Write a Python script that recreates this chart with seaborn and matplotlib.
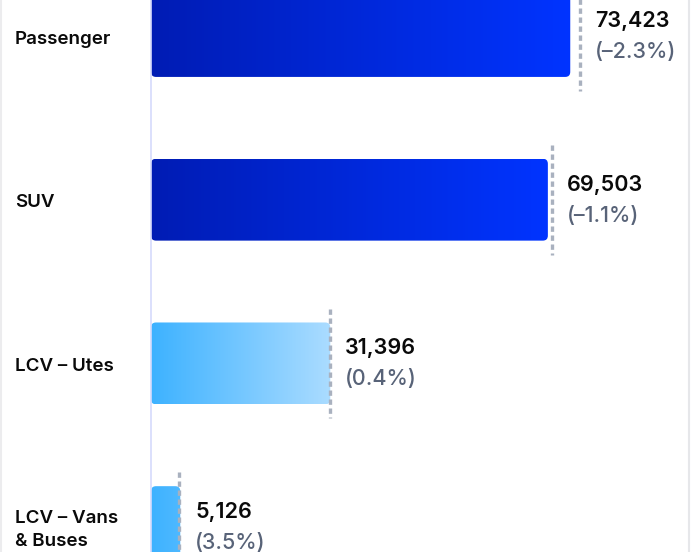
import numpy as np
import pandas as pd
import matplotlib
matplotlib.use("Agg")
import matplotlib.pyplot as plt
import seaborn as sns
from matplotlib.patches import FancyBboxPatch
from matplotlib.colors import LinearSegmentedColormap
from matplotlib.transforms import blended_transform_factory, IdentityTransform, offset_copy
from matplotlib.lines import Line2D

# ---- data ----
categories = ["Passenger", "SUV", "LCV – Utes", "LCV – Vans\n& Buses"]
values = [73423, 69503, 31396, 5126]
pct_change = [-2.3, -1.1, 0.4, 3.5]
pct_labels = ["(–2.3%)", "(–1.1%)", "(0.4%)", "(3.5%)"]
# previous-period values implied by the changes (shown as dotted markers)
prev_values = [v / (1 + p / 100) for v, p in zip(values, pct_change)]

# ---- style ----
sns.set_theme(style="white")
plt.rcParams["font.family"] = ["Inter", "DejaVu Sans"]

dark_grad = ("#001cb4", "#0034ff")
light_grad = ("#3db2ff", "#abdcff")
bar_style = {"Passenger": "dark", "SUV": "dark",
             "LCV – Utes": "light", "LCV – Vans\n& Buses": "light"}
light_span = 31396  # light gradient runs across this data range

W, H = 691, 552
fig = plt.figure(figsize=(W / 100, H / 100), dpi=100)
fig.patch.set_facecolor("white")
ax = fig.add_axes([151 / W, 0, 540 / W, 1])

df = pd.DataFrame({"category": categories, "value": values})
sns.barplot(data=df, y="category", x="value", orient="h", width=0.5,
            color="#0025e0", ax=ax)

px_per_unit = 5.71 / 1000
ax.set_xlim(0, 540 / px_per_unit)
step = 163.7
ax.set_ylim((H - 36) / step, -36 / step)

for s in ["top", "right", "bottom"]:
    ax.spines[s].set_visible(False)
ax.spines["left"].set_color("#d5dafc")
ax.spines["left"].set_linewidth(1.2)
ax.set_xticks([])
ax.set_yticks([])
ax.set_xlabel("")
ax.set_ylabel("")

fig.canvas.draw()
for patch, cat, val in zip(ax.patches, categories, values):
    x0, y0 = patch.get_x(), patch.get_y()
    w, h = patch.get_width(), patch.get_height()
    patch.set_visible(False)
    (px0, py0) = ax.transData.transform((x0, y0 + h))
    (px1, py1) = ax.transData.transform((x0 + w, y0))
    rb = FancyBboxPatch((px0, py0), px1 - px0, py1 - py0,
                        boxstyle="round,pad=0,rounding_size=5",
                        transform=IdentityTransform(), facecolor="none",
                        edgecolor="none")
    ax.add_artist(rb)
    if bar_style[cat] == "dark":
        cmap = LinearSegmentedColormap.from_list("d", dark_grad)
        grad = np.linspace(0, 1, 256)[None, :]
    else:
        cmap = LinearSegmentedColormap.from_list("l", light_grad)
        grad = np.linspace(0, min(1, val / light_span), 256)[None, :]
    im = ax.imshow(grad, extent=[x0, x0 + w, y0 + h, y0], aspect="auto",
                   cmap=cmap, vmin=0, vmax=1, zorder=2, interpolation="bilinear")
    im.set_clip_path(rb)

ax.set_xlim(0, 540 / px_per_unit)
ax.set_ylim((H - 36) / step, -36 / step)

pos = np.arange(len(categories))
ax.vlines(prev_values, pos - 0.335, pos + 0.335, color="#a9b1bf",
          linewidth=2.4, linestyles=(0, (1.6, 1.1)), zorder=3)

for i, (v, pv, pl) in enumerate(zip(values, prev_values, pct_labels)):
    xr = max(v, pv)
    ax.annotate(f"{v:,}", xy=(xr, i), xytext=(15, 15),
                textcoords="offset pixels", ha="left", va="center",
                fontsize=15.5, fontweight="semibold", color="#0a0a0a",
                annotation_clip=False)
    ax.annotate(pl, xy=(xr, i), xytext=(15, -16),
                textcoords="offset pixels", ha="left", va="center",
                fontsize=15.5, fontweight="medium", color="#586378",
                annotation_clip=False)

tr = blended_transform_factory(fig.transFigure, ax.transData)
tr = offset_copy(tr, fig=fig, x=0, y=-3, units="dots")
for i, c in enumerate(categories):
    ax.text(15 / W, i, c, transform=tr, ha="left", va="center",
            fontsize=13.5, fontweight="semibold", color="#0a0a0a",
            linespacing=1.5, clip_on=False)

fig.add_artist(Line2D([688.5 / W] * 2, [0, 1], color="#e6e7ea", lw=1.5))
fig.add_artist(Line2D([1 / W] * 2, [0, 1], color="#ececee", lw=1.5))

fig.savefig("out.png", dpi=100, facecolor="white")
